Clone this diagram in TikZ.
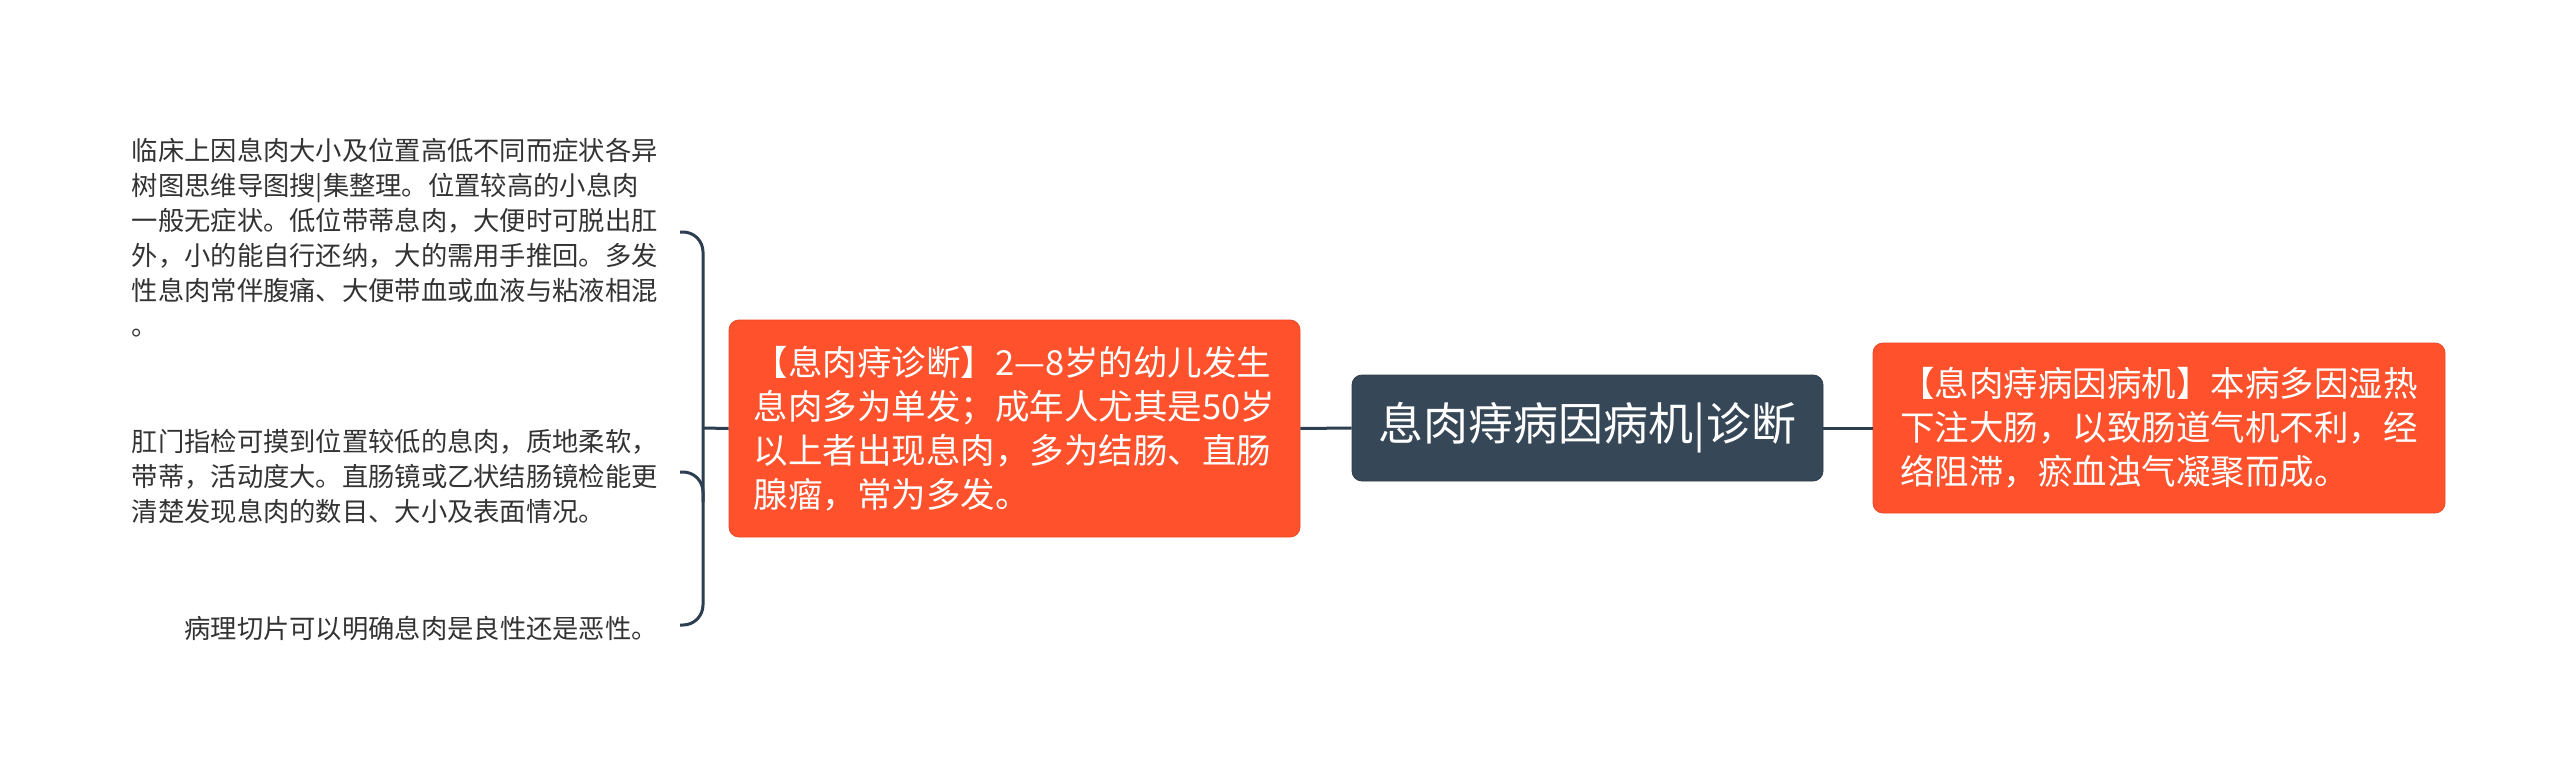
\documentclass[tikz,border=0pt]{standalone}
\usepackage{fontspec}
\newfontfamily\cjk{Noto Sans CJK SC}
\definecolor{linec}{RGB}{45,62,80}
\definecolor{centralc}{RGB}{54,71,87}
\definecolor{orangec}{RGB}{254,81,44}
\definecolor{orangeb}{RGB}{236,72,38}
\definecolor{leafc}{RGB}{51,51,51}
\begin{document}
\begin{tikzpicture}[x=1pt,y=-1pt]
\tikzset{
  conn/.style={draw=linec, line width=3pt},
  central/.style={fill=centralc, draw=centralc!85!black, line width=0.8pt, rounded corners=10pt,
    text=white, font=\cjk\fontsize{45}{54}\selectfont, inner sep=0pt},
  topic/.style={fill=orangec, draw=orangeb, line width=0.8pt, rounded corners=10pt,
    text=white, font=\cjk\fontsize{34.5}{44}\selectfont, align=left, inner sep=0pt},
  leaf/.style={text=leafc, font=\cjk\fontsize{26.3}{35}\selectfont, align=left, inner sep=0pt, anchor=east}
}
\useasboundingbox[fill=white] (0,0) rectangle (2560,771);

\node[central, minimum width=471, minimum height=106] (c) at (1587.5,428) {息肉痔病因病机|诊断};

\node[topic, minimum width=571, minimum height=217] (diag) at (1014.5,428.5)
  {【息肉痔诊断】2—8岁的幼儿发生\\息肉多为单发；成年人尤其是50岁\\以上者出现息肉，多为结肠、直肠\\腺瘤，常为多发。};

\node[topic, minimum width=572, minimum height=170] (cause) at (2159,428)
  {【息肉痔病因病机】本病多因湿热\\下注大肠，以致肠道气机不利，经\\络阻滞，瘀血浊气凝聚而成。};

\node[leaf] (l1) at (658,238)
  {临床上因息肉大小及位置高低不同而症状各异\\树图思维导图搜|集整理。位置较高的小息肉\\一般无症状。低位带蒂息肉，大便时可脱出肛\\外，小的能自行还纳，大的需用手推回。多发\\性息肉常伴腹痛、大便带血或血液与粘液相混\\。};
\node[leaf] (l2) at (658,476)
  {肛门指检可摸到位置较低的息肉，质地柔软，\\带蒂，活动度大。直肠镜或乙状结肠镜检能更\\清楚发现息肉的数目、大小及表面情况。};
\node[leaf] (l3) at (658,628) {病理切片可以明确息肉是良性还是恶性。};

\draw[conn] (c.west) -- (diag.east);
\draw[conn] (c.east) -- (cause.west);

\coordinate (bx) at (703,428);
\coordinate (a1) at ([xshift=22pt]l1.east |- 0,232);
\coordinate (a2) at ([xshift=22pt]l2.east |- 0,472);
\coordinate (a3) at ([xshift=22pt]l3.east |- 0,625);
\draw[conn] (diag.west) -- (bx);
\draw[conn, rounded corners=20pt] (a1) -- (a1 -| bx) -- (a3 -| bx) -- (a3);
\draw[conn, rounded corners=20pt] (a2) -- (a2 -| bx) -- ([yshift=-30pt]a2 -| bx);
\end{tikzpicture}
\end{document}
